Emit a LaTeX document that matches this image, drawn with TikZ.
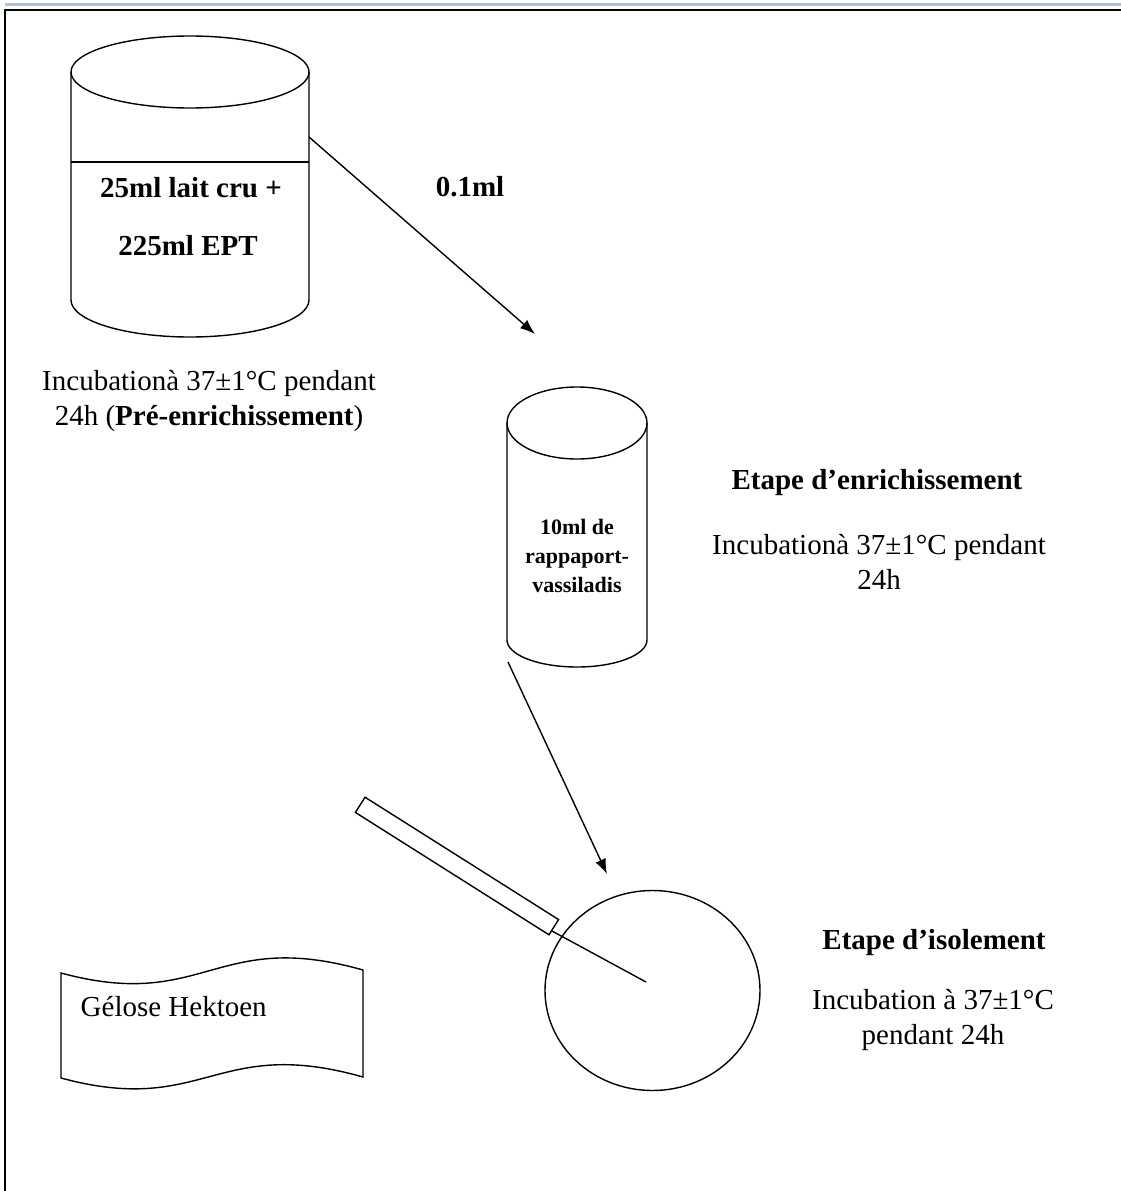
\documentclass[tikz,border=0pt]{standalone}
\usepackage{fontspec}
\setmainfont{Liberation Serif}
\usetikzlibrary{arrows.meta}
\definecolor{topline}{RGB}{165,195,232}
\begin{document}
\begin{tikzpicture}[x=1pt,y=-1pt,>={Latex[length=15pt,width=11pt]},line width=1.4pt,
		txt/.style={inner sep=0pt,align=center,font=\fontsize{29}{35}\selectfont},
		bold/.style={txt,font=\fontsize{29}{35}\selectfont\bfseries}]
	\useasboundingbox (0,0) rectangle (1121,1191);
	% window edge and frame
	\draw[topline,line width=3pt] (5,4)--(1121,4);
	\draw[line width=2.5pt] (5,1191)--(5,10)--(1121,10);
	% beaker
	\draw (71,72)--(71,300) arc[start angle=180,end angle=360,x radius=119pt,y radius=37pt]--(309,72);
	\draw (190,72) ellipse[x radius=119pt,y radius=36pt];
	\draw (71,162)--(309,162);
	\node[bold] (mix1) at (191,188) {25ml lait cru +};
	\node[bold] (mix2) at (188,246) {225ml EPT};
	\node[txt] (pre) at (209,401) {Incubationà 37±1°C pendant\\24h (\textbf{Pré-enrichissement})};
	% tube
	\draw (507,423)--(507,640) arc[start angle=180,end angle=360,x radius=70pt,y radius=27pt]--(647,423);
	\draw (577,423) ellipse[x radius=70pt,y radius=36pt];
	\node[bold,font=\fontsize{22}{29}\selectfont\bfseries] (rv) at (577,556) {10ml de\\rappaport-\\vassiladis};
	\node[bold] (enr) at (877,483) {Etape d’enrichissement};
	\node[txt] (enrinc) at (879,562) {Incubationà 37±1°C pendant\\24h};
	% transfers
	\coordinate (bkout) at (309,137);
	\coordinate (tbin) at (535,334);
	\draw[->] (bkout)--(tbin);
	\node[bold] (vol) at (470,187) {0.1ml};
	\coordinate (tbout) at (508,662);
	\coordinate (dishin) at (607,874);
	\draw[->] (tbout)--(dishin);
	% dish and loop
	\draw (652.5,990.5) ellipse[x radius=107.5pt,y radius=100pt];
	\node[draw,inner sep=0pt,minimum width=229pt,minimum height=18pt,rotate=-32.3] (loop) at (457,866) {};
	\coordinate (lptip) at (552,931);
	\coordinate (streak) at (646,982);
	\draw (lptip)--(streak);
	\node[bold] (iso) at (934,943) {Etape d’isolement};
	\node[txt] (isoinc) at (933,1020) {Incubation à 37±1°C\\pendant 24h};
	% medium label
	\draw (61,973) .. controls (205,1012) and (215,928) .. (363,970)--(363,1077)
		.. controls (215,1035) and (205,1117) .. (61,1078)--cycle;
	\node[txt,anchor=west] (gel) at (80,1007) {Gélose Hektoen};
\end{tikzpicture}
\end{document}
